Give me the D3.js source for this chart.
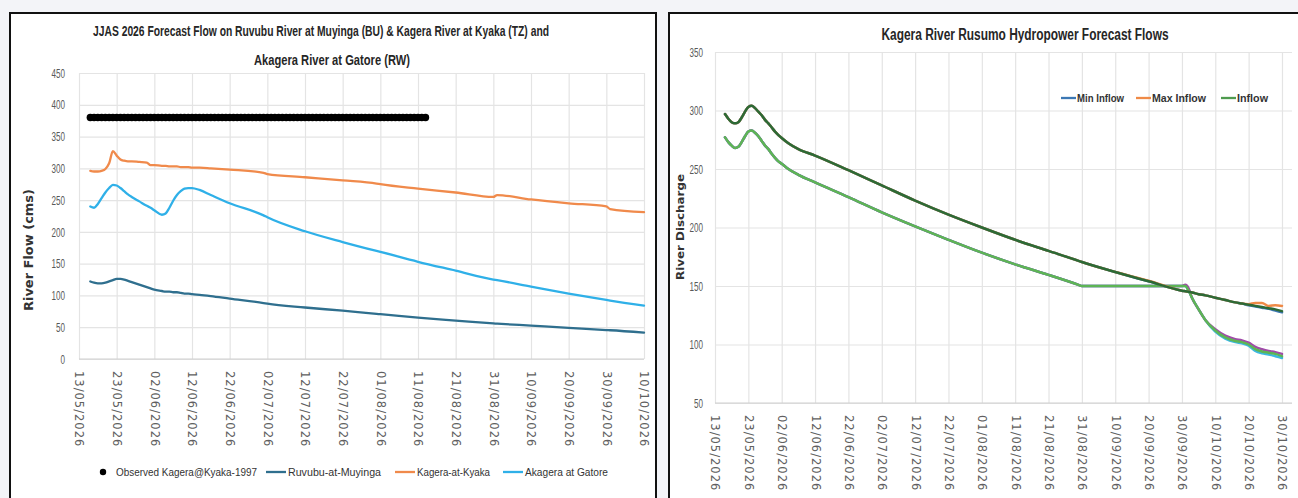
<!DOCTYPE html>
<html>
<head>
<meta charset="utf-8">
<script src="https://cdn.jsdelivr.net/npm/d3@7"></script>
<style>
  html, body { margin: 0; padding: 0; background: #f3f4f8; }
  svg { display: block; }
  .narrow { font-family: 'Liberation Sans', Arial, sans-serif; }
  .wide   { font-family: 'DejaVu Sans', Verdana, sans-serif; }
</style>
</head>
<body>
<svg id="chart" width="1298" height="498"></svg>
<script>
// ---- left panel: Ruvubu / Kagera / Akagera flows ----
const flowDates = ['2026-05-16','2026-05-17','2026-05-18','2026-05-19','2026-05-20','2026-05-21','2026-05-22',
  '2026-05-23','2026-05-24','2026-05-25','2026-05-26','2026-05-27','2026-05-29','2026-05-31','2026-06-01',
  '2026-06-02','2026-06-04','2026-06-05','2026-06-06','2026-06-07','2026-06-08','2026-06-09','2026-06-10',
  '2026-06-11','2026-06-12','2026-06-14','2026-06-17','2026-06-22','2026-07-01','2026-07-02','2026-07-12',
  '2026-07-22','2026-07-31','2026-08-01','2026-08-11','2026-08-21','2026-08-31','2026-09-01','2026-09-10',
  '2026-09-20','2026-09-30','2026-10-01','2026-10-10']
const ruvubuMuyinga = [122,120,119,119,120,122,124,126,126,125,123,121,117,113,111,109,107,106,106,105,105,104,103,
  103,102,101,99,95,88,87,81,76,71,70.5,65,60.5,56,55.6,52.5,49,45.5,45.2,41.5]
const kageraKyaka = [296,295,295,296,299,308,327,320,314,312,311,311,310,309,305,305,304,304,303,303,303,302,302,
  302,301,301,300,298,293,291,286,281,276,275,268,262,255,258,251,245,240,236,231]
const akageraGatore = [240,238,244,253,262,269,274,273,269,264,259,255,248,241,238,234,227,229,238,249,258,264,268,
  269,269,266,258,245,226,223,201,184,170,168.5,153,139,125,124,114,103,93,92,84]
// Observed Kagera@Kyaka-1997, one value per day from observedStart
const observedStart = '2026-05-16'
const observedKyaka1997 = [
  380,380,380,380,380,380,380,380,380,380,380,380,380,380,380,380,380,380,380,380,380,380,380,380,380,380,380,380,380,380,
  380,380,380,380,380,380,380,380,380,380,380,380,380,380,380,380,380,380,380,380,380,380,380,380,380,380,380,380,380,380,
  380,380,380,380,380,380,380,380,380,380,380,380,380,380,380,380,380,380,380,380,380,380,380,380,380,380,380,380,380,380]
const leftXTicks = ['13/05/2026','23/05/2026','02/06/2026','12/06/2026','22/06/2026','02/07/2026','12/07/2026',
  '22/07/2026','01/08/2026','11/08/2026','21/08/2026','31/08/2026','10/09/2026','20/09/2026','30/09/2026','10/10/2026']
const leftYTicks = [0,50,100,150,200,250,300,350,400,450]

// ---- right panel: Rusumo hydropower ----
const rusumoDates = ['2026-05-16','2026-05-17','2026-05-18','2026-05-19','2026-05-20','2026-05-21','2026-05-22',
  '2026-05-23','2026-05-24','2026-05-25','2026-05-26','2026-05-27','2026-05-28','2026-05-29','2026-05-30','2026-05-31',
  '2026-06-01','2026-06-02','2026-06-04','2026-06-07','2026-06-12','2026-06-22','2026-07-02','2026-07-12','2026-07-22',
  '2026-08-01','2026-08-11','2026-08-21','2026-08-30','2026-08-31','2026-09-10','2026-09-20','2026-09-30','2026-10-01',
  '2026-10-02','2026-10-03','2026-10-05','2026-10-07','2026-10-10','2026-10-13','2026-10-16','2026-10-18','2026-10-20',
  '2026-10-22','2026-10-24','2026-10-26','2026-10-28','2026-10-30']
const inflow    = [297,293,290,289,290,294,299,303,304,302,299,296,292,289,285.5,282,279,276.5,272,267,261.5,249,236,223,211,
  200,189.5,180,171.5,170.5,162,154,146,145.5,145,144.5,143,142,140,138,136,135,134,133,132,131,130,128.5]
const minInflow = [297,293,290,289,290,294,299,303,304,302,299,296,292,289,285.5,282,279,276.5,272,267,261.5,249,236,223,211,
  200,189.5,180,171.5,170.5,162,154,146,145.5,145,144.5,143,142,140,138,136,135,133.5,132.5,131.5,130.5,129,127.5]
const maxInflow = [297,293,290,289,290,294,299,303,304,302,299,296,292,289,285.5,282,279,276.5,272,267,261.5,249,236,223,211,
  200,189.5,180,171.5,170.5,162,154.5,146,145.5,145,144.5,143,142,140,138,136,135,134.5,135.5,135.5,133,133.5,133]
// second group of lines drawn in the chart but not named in its legend
const extraFlow = [277,273,270,268,269,273,278,282,283,281,278,274,270,267,263,259.5,256.5,254.5,250,245,238.5,226,213,201,
  189.5,178.5,168.5,159.5,151,150,150,150,150,150,146,140,130,121,112,106,103,102,100,96,94,93,92,90]
const extraMax  = [277,273,270,268,269,273,278,282,283,281,278,274,270,267,263,259.5,256.5,254.5,250,245,238.5,226,213,201,
  189.5,178.5,168.5,159.5,151,150,150,150,150,151,148,140,130,121,113,107.5,104.5,103.5,101.5,98,96,94.5,93.5,92]
const extraMin  = [277,273,270,268,269,273,278,282,283,281,278,274,270,267,263,259.5,256.5,254.5,250,245,238.5,226,213,201,
  189.5,178.5,168.5,159.5,151,150,150,150,150,150,146,140,130,121,111,105,102,101,99,94.5,92.5,91.5,90,88.5]
const rightXTicks = ['13/05/2026','23/05/2026','02/06/2026','12/06/2026','22/06/2026','02/07/2026','12/07/2026',
  '22/07/2026','01/08/2026','11/08/2026','21/08/2026','31/08/2026','10/09/2026','20/09/2026','30/09/2026','10/10/2026',
  '20/10/2026','30/10/2026']
const rightYTicks = [50,100,150,200,250,300,350]

const parseDate = d3.timeParse('%Y-%m-%d')
const parseTick = d3.timeParse('%d/%m/%Y')

const svg = d3.select('#chart')

// squeeze a text to a given width (no narrow font installed)
function squeeze (sel, width) {
  sel.attr('textLength', width).attr('lengthAdjust', 'spacingAndGlyphs')
}

// panel frames
function frame (x, y, w, h) {
  svg.append('rect')
    .attr('x', x).attr('y', y).attr('width', w).attr('height', h)
    .attr('fill', '#fff').attr('stroke', '#111').attr('stroke-width', 2)
}
frame(10, 13, 646, 520)
frame(669, 13, 640, 520)

function gridAndAxes (g, x, y, xTicks, yTicks, yPad) {
  const [x0, x1] = x.range()
  const [yb, yt] = y.range()

  g.append('g')
    .attr('transform', `translate(${x0},0)`)
    .call(d3.axisLeft(y).tickValues(yTicks).tickSize(-(x1 - x0)).tickPadding(yPad))
    .call(ax => ax.select('.domain').remove())
    .call(ax => ax.selectAll('line').attr('stroke', '#e4e4e4').attr('stroke-width', 1.2))
    .call(ax => ax.selectAll('text')
      .attr('class', 'narrow').attr('fill', '#595959').style('font-size', '13px')
      .each(function (d) { squeeze(d3.select(this), String(d).length * 4.5) }))

  g.append('g')
    .attr('transform', `translate(0,${yb})`)
    .call(d3.axisBottom(x).tickValues(xTicks.map(parseTick)).tickSize(-(yb - yt)).tickFormat(d3.timeFormat('%d/%m/%Y')))
    .call(ax => ax.select('.domain').remove())
    .call(ax => ax.selectAll('line').attr('stroke', '#e4e4e4').attr('stroke-width', 1.2))
    .call(ax => ax.selectAll('text')
      .attr('class', 'wide')
      .attr('fill', '#606060')
      .style('font-size', '11.5px')
      .style('letter-spacing', '1px')
      .attr('transform', 'rotate(90)')
      .attr('x', 12).attr('y', 0).attr('dy', '0.35em')
      .style('text-anchor', 'start'))

  g.append('line')
    .attr('x1', x0).attr('x2', x1).attr('y1', yb).attr('y2', yb)
    .attr('stroke', '#d0d0d0').attr('stroke-width', 1.2)
}

function drawLine (g, x, y, dates, values, color, width) {
  const pts = dates.map((d, i) => ({ date: parseDate(d), v: values[i] }))
  g.append('path')
    .datum(pts)
    .attr('fill', 'none')
    .attr('stroke', color)
    .attr('stroke-width', width)
    .attr('stroke-linejoin', 'round')
    .attr('stroke-linecap', 'round')
    .attr('d', d3.line().x(d => x(d.date)).y(d => y(d.v)).curve(d3.curveMonotoneX))
}

function title (g, txt, cx, y, size, width) {
  g.append('text').attr('class', 'narrow')
    .attr('x', cx).attr('y', y).attr('text-anchor', 'middle')
    .style('font-size', size + 'px').style('font-weight', 'bold').attr('fill', '#262626')
    .text(txt)
    .call(squeeze, width)
}

// ---------- left chart ----------
const xL = d3.scaleTime().domain([parseDate('2026-05-13'), parseDate('2026-10-10')]).range([79, 644])
const yL = d3.scaleLinear().domain([0, 450]).range([359, 73])
const gL = svg.append('g')
gridAndAxes(gL, xL, yL, leftXTicks, leftYTicks, 14)

const obsStart = parseDate(observedStart)
gL.selectAll('.obs')
  .data(observedKyaka1997)
  .join('circle')
  .attr('cx', (d, i) => xL(d3.timeDay.offset(obsStart, i)))
  .attr('cy', d => yL(d))
  .attr('r', 3.7)
  .attr('fill', '#000')

const leftColors = { ruvubu: '#2f6f8e', kyaka: '#f08a4b', gatore: '#2fb0e8' }
drawLine(gL, xL, yL, flowDates, ruvubuMuyinga, leftColors.ruvubu, 2.3)
drawLine(gL, xL, yL, flowDates, kageraKyaka, leftColors.kyaka, 2.3)
drawLine(gL, xL, yL, flowDates, akageraGatore, leftColors.gatore, 2.3)

title(gL, 'JJAS 2026 Forecast Flow on Ruvubu River at Muyinga (BU) & Kagera River at Kyaka (TZ) and', 321, 36, 15, 456)
title(gL, 'Akagera River at Gatore (RW)', 332, 65, 15, 156)

gL.append('text').attr('class', 'wide')
  .attr('transform', 'translate(33,250) rotate(-90)')
  .attr('text-anchor', 'middle')
  .style('font-size', '12px').style('font-weight', 'bold').attr('fill', '#333')
  .text('River Flow (cms)')
  .call(squeeze, 122)

// left legend
const legL = gL.append('g').attr('class', 'narrow').style('font-size', '11px')
legL.append('circle').attr('cx', 103).attr('cy', 472).attr('r', 3.2).attr('fill', '#000')
legL.append('text').attr('x', 116).attr('y', 476).attr('fill', '#333').text('Observed Kagera@Kyaka-1997').call(squeeze, 141)
const leftLegendItems = [
  { label: 'Ruvubu-at-Muyinga', color: leftColors.ruvubu, x: 266, w: 93 },
  { label: 'Kagera-at-Kyaka', color: leftColors.kyaka, x: 395, w: 73 },
  { label: 'Akagera at Gatore', color: leftColors.gatore, x: 503, w: 83 }
]
leftLegendItems.forEach(it => {
  legL.append('line').attr('x1', it.x).attr('x2', it.x + 20).attr('y1', 472).attr('y2', 472)
    .attr('stroke', it.color).attr('stroke-width', 2.3)
  legL.append('text').attr('x', it.x + 22).attr('y', 476).attr('fill', '#333').text(it.label).call(squeeze, it.w)
})

// ---------- right chart ----------
const xR = d3.scaleTime().domain([parseDate('2026-05-13'), parseDate('2026-11-02')]).range([715, 1292])
const yR = d3.scaleLinear().domain([50, 350]).range([403, 52])
const gR = svg.append('g')
gridAndAxes(gR, xR, yR, rightXTicks, rightYTicks, 12)

const rightColors = {
  min: '#3c78b4', max: '#ef8a47', inflow: '#2c6a36', inflowKey: '#4f9b4f',
  extraMin: '#3cb8e0', extraMax: '#a04aa8', extraFlow: '#5db555'
}
drawLine(gR, xR, yR, rusumoDates, extraMin, rightColors.extraMin, 2.5)
drawLine(gR, xR, yR, rusumoDates, extraMax, rightColors.extraMax, 2.5)
drawLine(gR, xR, yR, rusumoDates, extraFlow, rightColors.extraFlow, 2.5)
drawLine(gR, xR, yR, rusumoDates, minInflow, rightColors.min, 2.5)
drawLine(gR, xR, yR, rusumoDates, maxInflow, rightColors.max, 2.5)
drawLine(gR, xR, yR, rusumoDates, inflow, rightColors.inflow, 2.5)

title(gR, 'Kagera River Rusumo Hydropower Forecast Flows', 1025, 40, 16, 287)

gR.append('text').attr('class', 'wide')
  .attr('transform', 'translate(684,227) rotate(-90)')
  .attr('text-anchor', 'middle')
  .style('font-size', '11px').style('font-weight', 'bold').attr('fill', '#333')
  .text('River Discharge')
  .call(squeeze, 106)

const legR = gR.append('g').attr('class', 'narrow').style('font-size', '11px').style('font-weight', 'bold')
const rightLegendItems = [
  { label: 'Min Inflow', color: rightColors.min, x: 1061, w: 47 },
  { label: 'Max Inflow', color: rightColors.max, x: 1136, w: 54 },
  { label: 'Inflow', color: rightColors.inflowKey, x: 1221, w: 31 }
]
rightLegendItems.forEach(it => {
  legR.append('line').attr('x1', it.x).attr('x2', it.x + 15).attr('y1', 98).attr('y2', 98)
    .attr('stroke', it.color).attr('stroke-width', 2.3)
  legR.append('text').attr('x', it.x + 16).attr('y', 102).attr('fill', '#333').text(it.label).call(squeeze, it.w)
})
</script>
</body>
</html>
